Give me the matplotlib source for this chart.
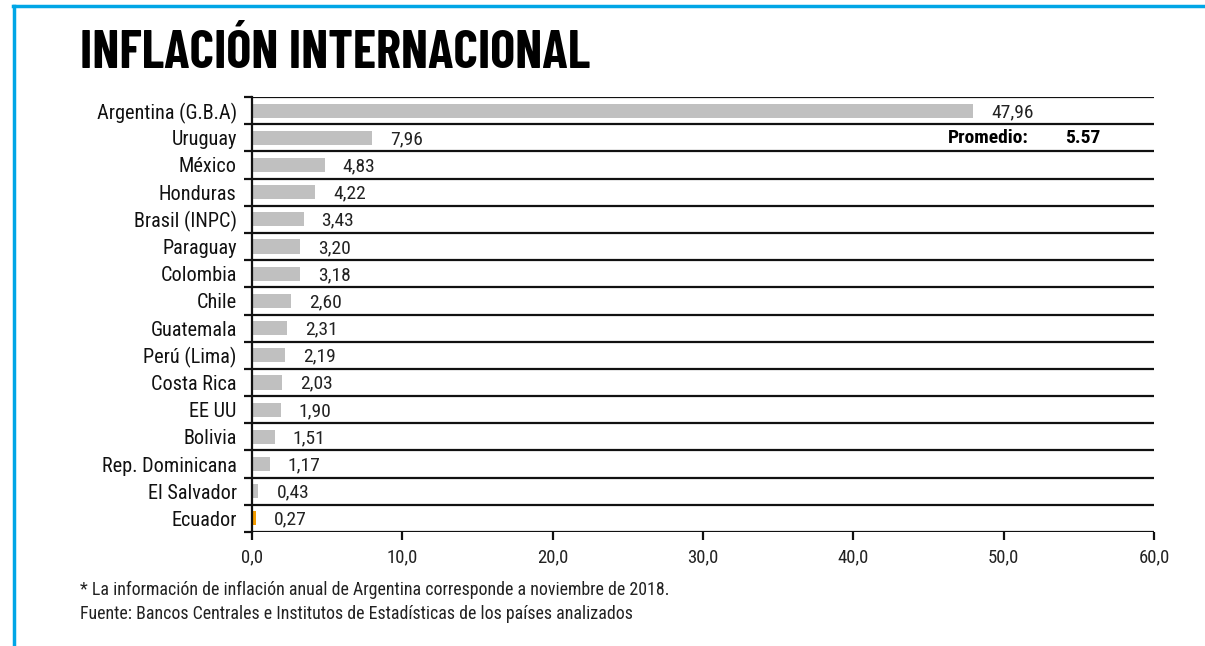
import matplotlib
matplotlib.use("Agg")
import matplotlib.pyplot as plt
from matplotlib.lines import Line2D

plt.rcParams['font.family'] = ['Roboto Condensed', 'DejaVu Sans']

paises = ["Argentina (G.B.A)", "Uruguay", "México", "Honduras", "Brasil (INPC)",
          "Paraguay", "Colombia", "Chile", "Guatemala", "Perú (Lima)",
          "Costa Rica", "EE UU", "Bolivia", "Rep. Dominicana", "El Salvador",
          "Ecuador"]
inflacion = [47.96, 7.96, 4.83, 4.22, 3.43, 3.20, 3.18, 2.60, 2.31, 2.19,
             2.03, 1.90, 1.51, 1.17, 0.43, 0.27]
promedio = 5.57
x_ticks = [0, 10, 20, 30, 40, 50, 60]

gris = "#c0c0c0"
naranja = "#f39c00"
colores = [naranja if p == "Ecuador" else gris for p in paises]

fig = plt.figure(figsize=(12.05, 6.46), dpi=100)
ax = fig.add_axes([0.2091, 0.1765, 0.7486, 0.6733])

pos = list(range(len(paises)))
ax.barh(pos, inflacion, height=0.52, color=colores, zorder=2)

for i, v in enumerate(inflacion):
    ax.annotate(f"{v:.2f}".replace(".", ","), (v, i), xytext=(13, -1),
                textcoords="offset points", va="center", ha="left",
                fontsize=14, color="#222222")

ax.text(46.3, 1, "Promedio:", fontsize=14, fontweight="bold", va="center",
        ha="left")
ax.text(54.1, 1, f"{promedio:.2f}", fontsize=14, fontweight="bold",
        va="center", ha="left")

ax.set_xlim(0, 60)
ax.set_ylim(len(paises) - 0.5, -0.5)

# lineas horizontales entre filas
for k in range(len(paises) + 1):
    ax.axhline(k - 0.5, color="#111111", lw=1.6, zorder=3)

ax.set_xticks(x_ticks)
ax.set_xticklabels([f"{t:.1f}".replace(".", ",") for t in x_ticks],
                   fontsize=13.5, color="#222222")
ax.set_yticks(pos)
ax.set_yticklabels(paises, fontsize=14.6, color="#111111")
ax.set_yticks([k - 0.5 for k in range(len(paises) + 1)], minor=True)
ax.tick_params(axis="y", which="major", length=0, pad=11)
ax.tick_params(axis="y", which="minor", length=6, width=1.6, color="#111111")
ax.tick_params(axis="x", length=6, width=1.6, color="#111111", pad=6)

for s in ["top", "right", "bottom"]:
    ax.spines[s].set_visible(False)
ax.spines["left"].set_linewidth(1.6)
ax.spines["left"].set_color("#111111")

fig.text(0.0664, 0.8947, "INFLACIÓN INTERNACIONAL", fontsize=38,
         fontweight="bold", family=["Barlow Condensed", "DejaVu Sans"],
         va="baseline", ha="left")
fig.text(0.0664, 0.0867,
         "* La información de inflación anual de Argentina corresponde a noviembre de 2018.",
         fontsize=12.9, va="center", ha="left", color="#222222")
fig.text(0.0664, 0.0495,
         "Fuente: Bancos Centrales e Institutos de Estadísticas de los países analizados",
         fontsize=12.9, va="center", ha="left", color="#222222")

# marco azul
azul = "#00a6e6"
fig.add_artist(Line2D([0.0108, 1.0], [0.9907, 0.9907], color=azul, lw=2.5,
                      transform=fig.transFigure))
fig.add_artist(Line2D([0.0116, 0.0116], [0.0, 0.9907], color=azul, lw=2.5,
                      transform=fig.transFigure))

fig.savefig("out.png", dpi=100)
